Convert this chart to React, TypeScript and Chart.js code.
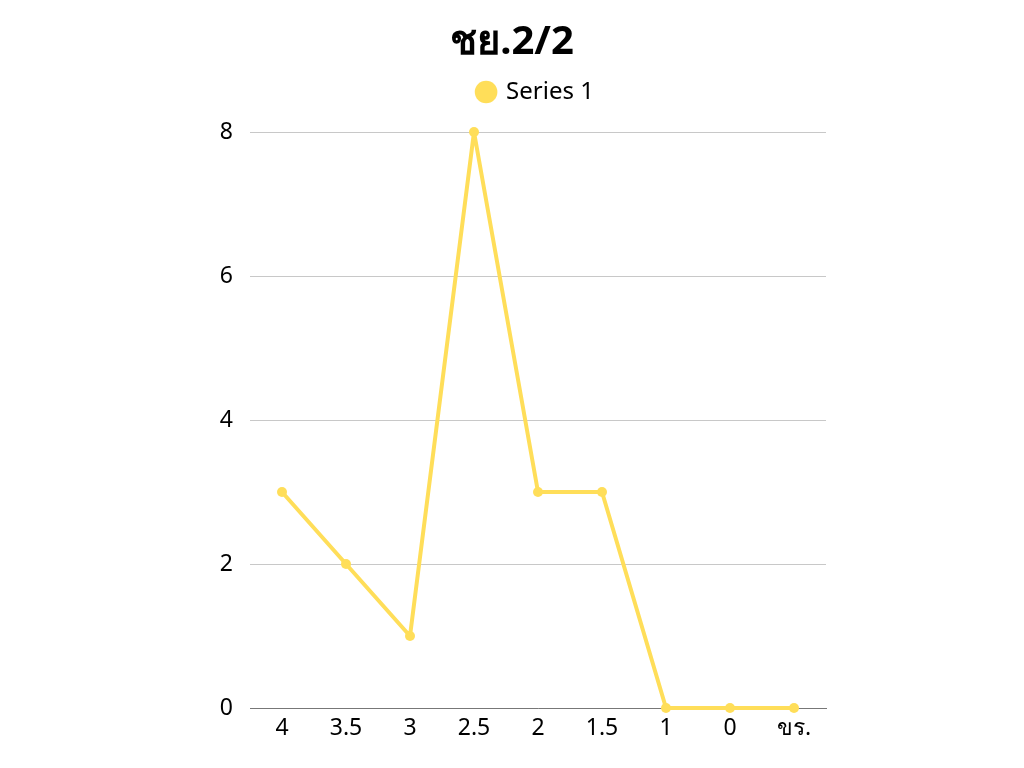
import React, { useEffect, useRef } from "react";
import { Chart, registerables } from "chart.js";

Chart.register(...registerables);

const categories = ["4", "3.5", "3", "2.5", "2", "1.5", "1", "0", "ขร."];
const series1 = [3, 2, 1, 8, 3, 3, 0, 0, 0];
const yTicks = [0, 2, 4, 6, 8];
const titleText = "ชย.2/2";
const seriesName = "Series 1";

const FONT = "'Noto Sans', 'DejaVu Sans', sans-serif";
const YELLOW = "#FFDE59";

export default function App() {
  const ref = useRef<HTMLCanvasElement | null>(null);
  useEffect(() => {
    document.body.style.margin = "0";
    const legendPad = {
      id: "legendPad",
      beforeInit(chart: any) {
        const lg = chart.legend;
        if (lg) {
          const origFit = lg.fit;
          lg.fit = function () {
            origFit.call(this);
            this.height += 18;
          };
          const origDraw = lg.draw;
          lg.draw = function () {
            this.left += 24;
            this.right += 24;
            origDraw.call(this);
            this.left -= 24;
            this.right -= 24;
          };
        }
      },
    };
    const chart = new Chart(ref.current as HTMLCanvasElement, {
      type: "line",
      data: {
        labels: categories,
        datasets: [
          {
            label: seriesName,
            data: series1,
            borderColor: YELLOW,
            backgroundColor: YELLOW,
            borderWidth: 4,
            borderJoinStyle: "round",
            borderCapStyle: "round",
            pointRadius: 5,
            pointHoverRadius: 5,
            pointBackgroundColor: YELLOW,
            pointBorderWidth: 0,
            tension: 0,
            clip: false,
          },
        ],
      },
      plugins: [legendPad],
      options: {
        animation: false,
        responsive: false,
        maintainAspectRatio: false,
        layout: { padding: 0 },
        plugins: {
          title: {
            display: true,
            text: titleText,
            color: "#000",
            font: { family: FONT, size: 40, weight: "bold" },
            padding: { top: 19, bottom: 3 },
          },
          legend: {
            display: true,
            position: "top",
            labels: {
              usePointStyle: true,
              pointStyle: "circle",
              boxWidth: 16,
              boxHeight: 16,
              color: "#000",
              font: { family: FONT, size: 24 },
              padding: 10,
            },
          },
          tooltip: { enabled: false },
        },
        scales: {
          x: {
            offset: true,
            grid: { display: false, drawTicks: false },
            border: { display: true, color: "#777", width: 1 },
            ticks: {
              color: "#000",
              font: { family: FONT, size: 23 },
              padding: 7,
              maxRotation: 0,
            },
            afterFit(scale: any) {
              scale.height = 60;
            },
          },
          y: {
            min: 0,
            max: 8,
            afterBuildTicks(scale: any) {
              scale.ticks = yTicks.map((v) => ({ value: v }));
            },
            grid: { color: "#c8c8c8", drawTicks: false, lineWidth: 1 },
            border: { display: false },
            ticks: {
              color: "#000",
              font: { family: FONT, size: 23 },
              padding: 17,
            },
            afterFit(scale: any) {
              scale.width = 250;
            },
          },
          yRight: {
            position: "right",
            min: 0,
            max: 8,
            grid: { display: false, drawTicks: false },
            border: { display: false },
            ticks: { display: false },
            afterFit(scale: any) {
              scale.width = 198;
            },
          },
        },
      },
    });
    return () => chart.destroy();
  }, []);
  return (
    <div style={{ position: "absolute", left: 0, top: 0, width: 1024, height: 768 }}>
      <canvas ref={ref} width={1024} height={768} style={{ width: 1024, height: 768 }} />
    </div>
  );
}
